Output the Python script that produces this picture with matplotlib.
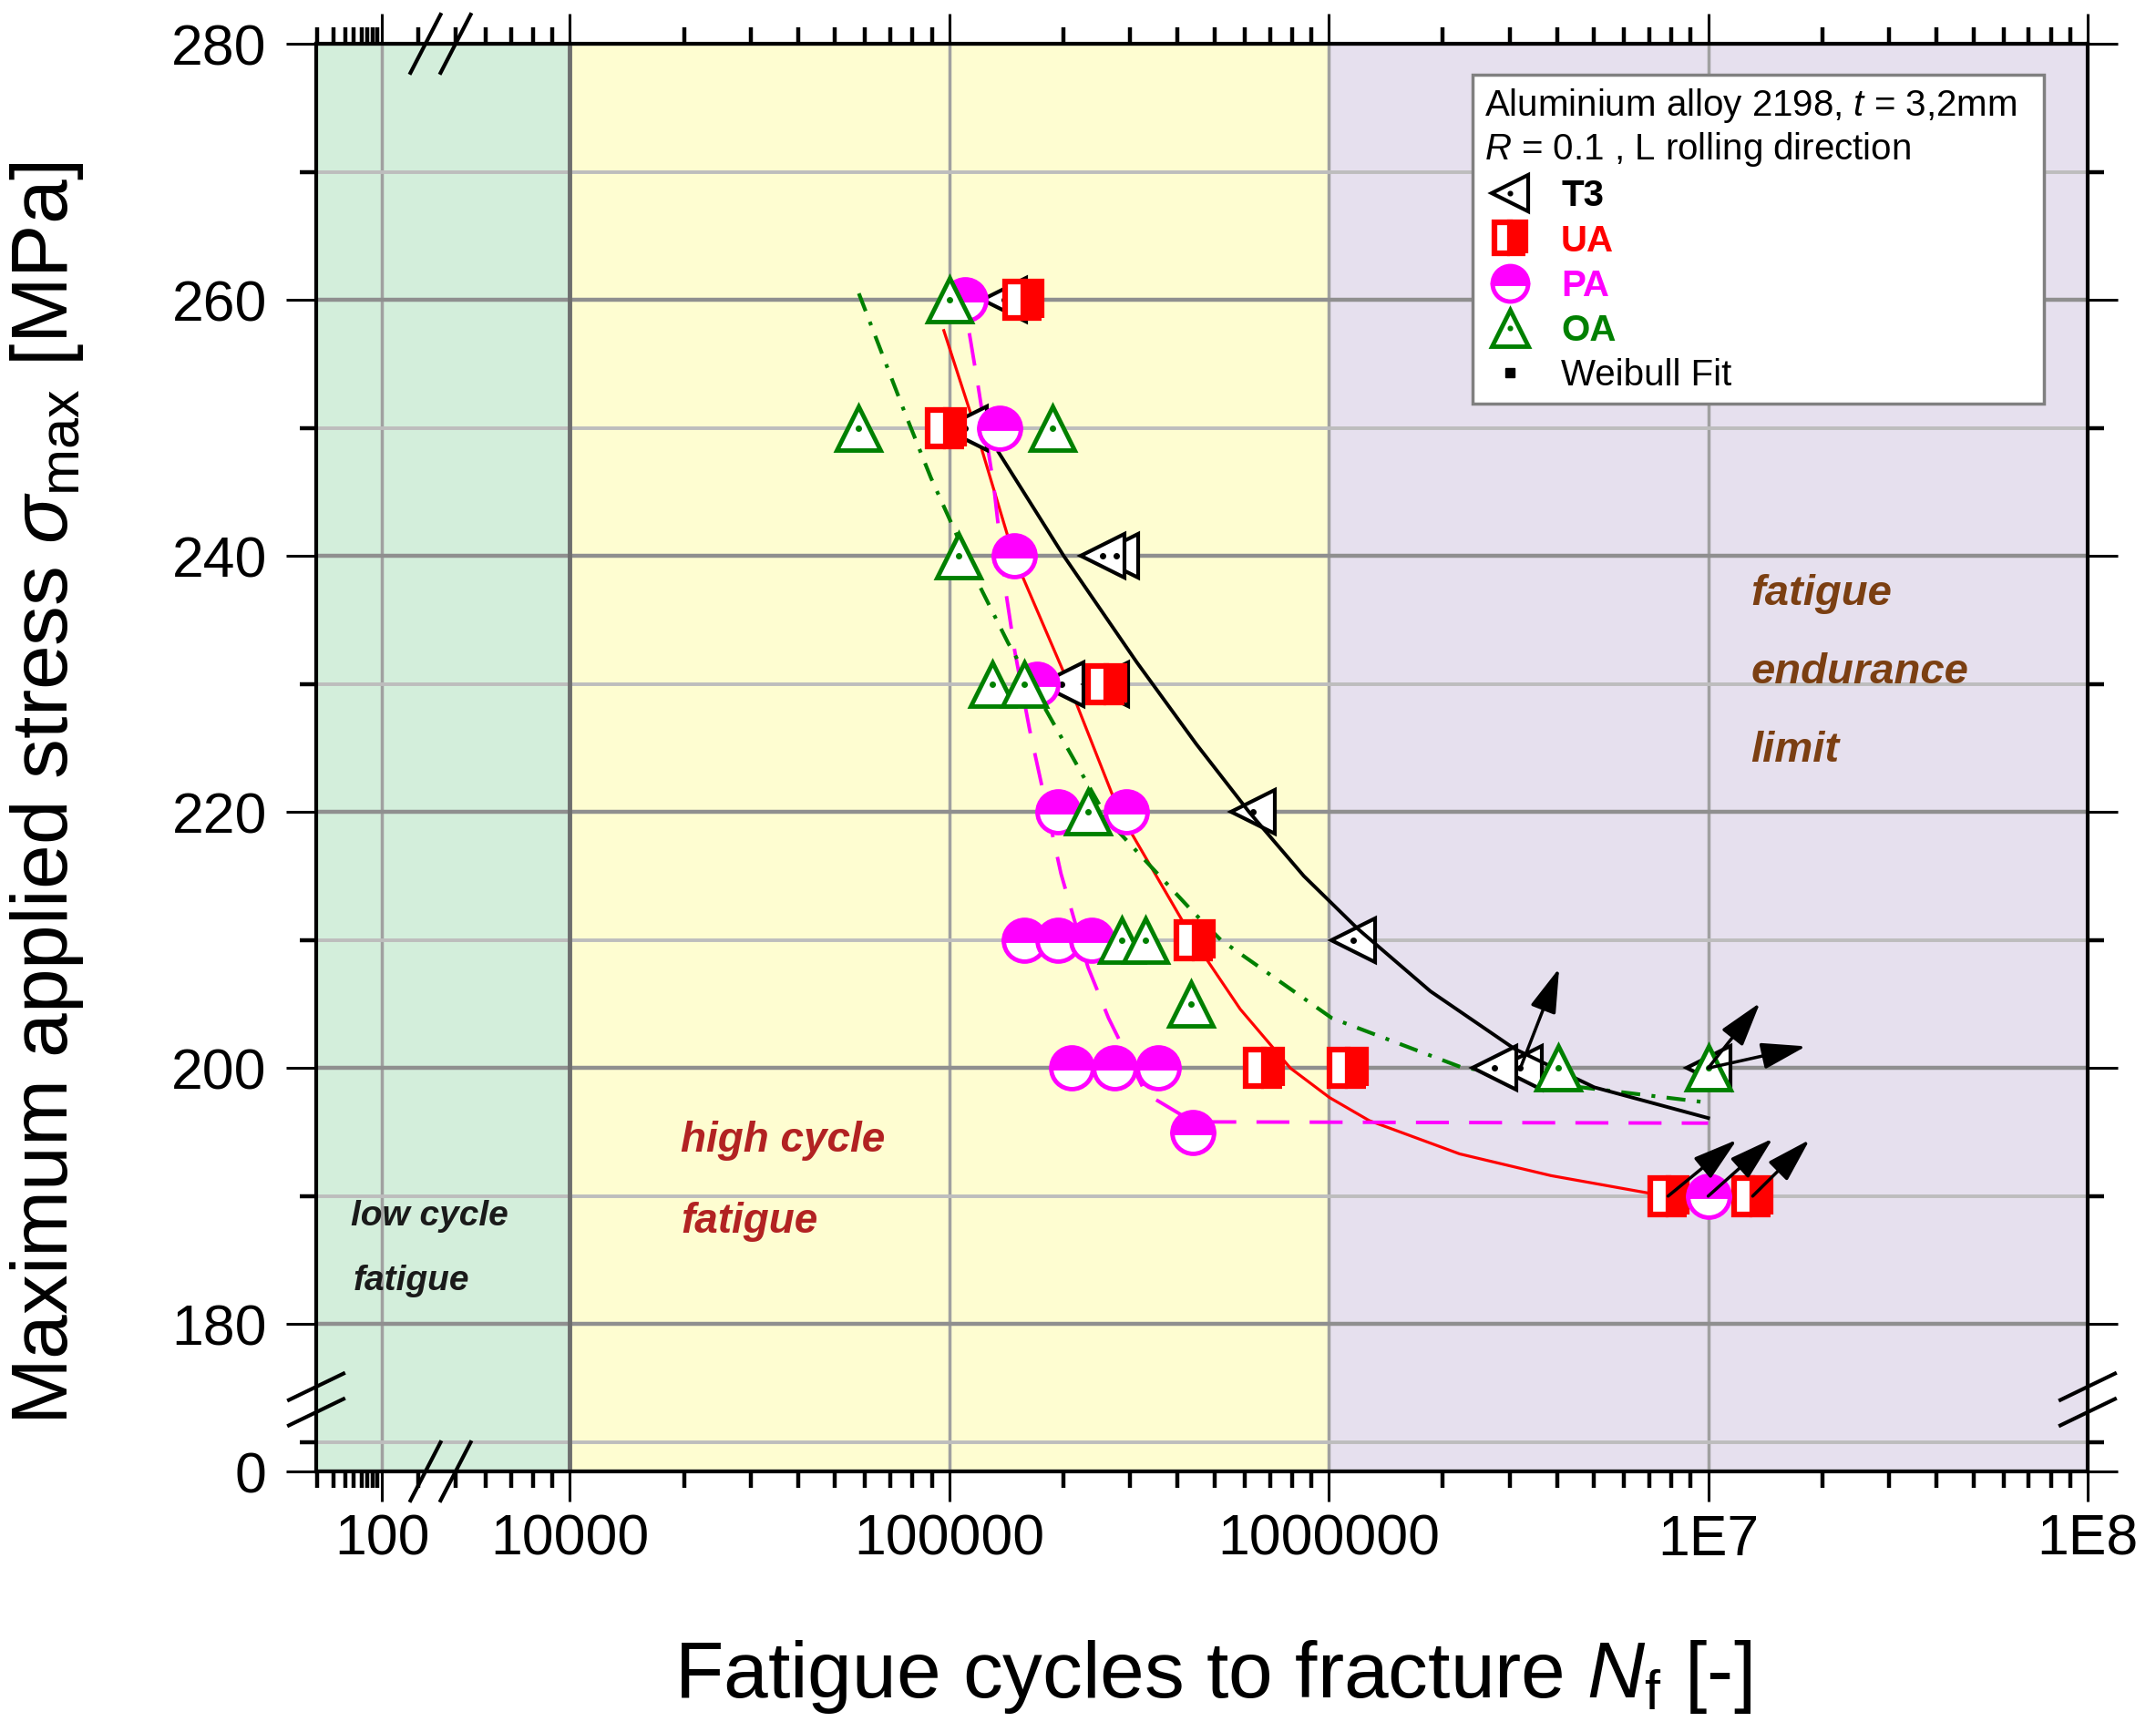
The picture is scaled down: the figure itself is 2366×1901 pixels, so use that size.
import matplotlib
matplotlib.use('Agg')
import matplotlib.pyplot as plt
from matplotlib.lines import Line2D
from matplotlib.ticker import NullFormatter
import numpy as np

plt.rcParams['font.family'] = ['Liberation Sans', 'DejaVu Sans']
plt.rcParams['mathtext.fontset'] = 'custom'
plt.rcParams['mathtext.rm'] = 'Liberation Sans'
plt.rcParams['mathtext.it'] = 'Liberation Sans:italic'
plt.rcParams['mathtext.bf'] = 'Liberation Sans:bold'

# ---- test results: cycles to fracture N_f and max stress [MPa] ----
t3_n = [1.40e5, 1.10e5, 2.75e5, 2.53e5, 1.98e5, 2.6e5, 6.3e5, 1.16e6, 3.2e6, 2.73e6, 1.0e7]
t3_s = [260, 250, 240, 240, 230, 230, 220, 210, 200, 200, 200]

ua_n = [1.57e5, 9.8e4, 2.6e5, 4.44e5, 6.76e5, 1.12e6, 7.84e6, 1.31e7]
ua_s = [260, 250, 230, 210, 200, 200, 190, 190]

pa_n = [1.10e5, 1.36e5, 1.48e5, 1.70e5, 1.93e5, 2.93e5, 1.58e5, 1.93e5, 2.38e5,
        2.10e5, 2.73e5, 3.55e5, 4.39e5, 1.0e7]
pa_s = [260, 250, 240, 230, 220, 220, 210, 210, 210, 200, 200, 200, 195, 190]

oa_n = [1.0e5, 5.75e4, 1.87e5, 1.06e5, 1.30e5, 1.58e5, 2.32e5, 2.85e5, 3.29e5, 4.34e5, 4.03e6, 1.0e7]
oa_s = [260, 250, 250, 240, 230, 230, 220, 210, 210, 205, 200, 200]

# run-outs (arrow start -> arrow tip)
runout_n0 = [3.2e6, 1.0e7, 1.0e7, 7.84e6, 1.0e7, 1.31e7]
runout_s0 = [200, 200, 200, 190, 190, 190]
runout_n1 = [4.05e6, 1.37e7, 1.81e7, 1.19e7, 1.48e7, 1.85e7]
runout_s1 = [207.8, 205.1, 201.7, 194.4, 194.5, 194.4]

# Weibull fits
t3_fit_n = [1.349e5, 2.004e5, 3.12e5, 4.48e5, 6.17e5, 8.60e5, 1.191e6, 1.854e6, 3.09e6, 5.01e6, 1.0e7]
t3_fit_s = [248.1, 240.0, 231.7, 225.3, 220.0, 215.0, 210.9, 206.0, 201.5, 198.5, 196.1]

ua_fit_n = [9.68e4, 1.172e5, 1.479e5, 2.065e5, 2.805e5, 4.406e5, 5.848e5, 7.925e5, 1.005e6,
            1.279e6, 2.213e6, 3.855e6, 7.08e6, 7.85e6]
ua_fit_s = [257.6, 250.0, 240.0, 230.0, 220.0, 210.0, 204.6, 200.0, 197.7,
            195.9, 193.3, 191.6, 190.2, 190.0]

pa_fit_n = [1.13e5, 1.19e5, 1.31e5, 1.41e5, 1.49e5, 1.63e5, 1.97e5, 2.32e5, 2.63e5, 3.3e5, 4.39e5, 1.0e7]
pa_fit_s = [257.4, 253.4, 245.5, 237.2, 232.5, 226.4, 215.2, 207.9, 203.9, 198.0, 195.8, 195.7]

oa_fit_n = [5.78e4, 7.59e4, 8.95e4, 1.21e5, 1.43e5, 2.63e5, 4.39e5, 5.2e5, 1.02e6, 2.22e6, 4.63e6, 1.0e7]
oa_fit_s = [260.5, 251.4, 246.1, 237.5, 233.2, 219.3, 212.2, 210.0, 203.9, 200.1, 198.5, 197.3]

# axis ticks
x_tick_labels = ['100', '10000', '100000', '1000000', '1E7', '1E8']
y_tick_values = [180, 200, 220, 240, 260, 280]
y_minor_values = [190, 210, 230, 250, 270]

# fatigue regimes
region_edges = [2148, 1e4, 1e6, 1e8]
region_colors = ['#d3eedb', '#fefdd1', '#e6e0ee']

# layout of the broken axes
X100_POS = 3.505      # log10 position where "100" sits left of the break
LEFT_DECADE = 0.2436  # compressed decade width left of the break
Y_ZERO_POS = 168.5    # where "0" sits below the y break
Y_LOW_GRID = 170.75


def left_segment(v):
    return 10 ** (X100_POS + (np.log10(v) - 2) * LEFT_DECADE)


fig = plt.figure(figsize=(23.66, 19.01), dpi=100)
ax = fig.add_axes([347 / 2366, 1 - 1615 / 1901, (2291 - 347) / 2366, (1615 - 48) / 1901])
ax.set_xscale('log')
ax.set_xlim(region_edges[0], region_edges[-1])
ax.set_ylim(Y_ZERO_POS, 280)

for i in range(3):
    ax.axvspan(region_edges[i], region_edges[i + 1], color=region_colors[i], zorder=0, lw=0)
ax.axvline(region_edges[1], color='#6e6e6e', lw=3.5, zorder=0.7)

xmaj = [left_segment(100), 1e4, 1e5, 1e6, 1e7, 1e8]
xmin = list(left_segment(np.arange(20, 100, 10)))
xmin += [k * 10 ** e for e in range(3, 8) for k in range(2, 10) if k * 10 ** e >= 4000]
ax.set_xticks(xmaj)
ax.set_xticklabels(x_tick_labels)
ax.set_xticks(xmin, minor=True)
ax.xaxis.set_minor_formatter(NullFormatter())
ax.set_yticks([Y_ZERO_POS] + y_tick_values)
ax.set_yticklabels(['0'] + [str(v) for v in y_tick_values])
ax.set_yticks([Y_LOW_GRID] + y_minor_values, minor=True)

ax.set_axisbelow(True)
ax.yaxis.grid(True, which='major', color='#8f8f8f', lw=3.2)
ax.yaxis.grid(True, which='minor', color='#bdbdbd', lw=2.8)
ax.xaxis.grid(True, which='major', color='#a0a0a0', lw=2.5)

ax.tick_params(which='major', direction='out', length=24, width=2.2, top=True, right=True,
               labelsize=45)
ax.tick_params(which='minor', direction='out', length=13, width=3.2, top=True, right=True)
ax.tick_params(axis='x', which='major', pad=9)
ax.tick_params(axis='y', which='major', pad=15)
for sp in ax.spines.values():
    sp.set_linewidth(3)

# fits
ax.plot(ua_fit_n, ua_fit_s, color='red', lw=2.3, zorder=2)
ax.plot(pa_fit_n, pa_fit_s, color='magenta', lw=2.8, dashes=(9.3, 5.7), zorder=2)
ax.plot(oa_fit_n, oa_fit_s, color='green', lw=3, dashes=(5, 3, 1, 3), zorder=2)

# data
ax.plot(t3_n, t3_s, ls='none', marker='<', ms=34, mfc='white', mec='black', mew=3, zorder=3)
ax.plot(t3_n, t3_s, ls='none', marker='o', ms=4, color='black', zorder=3.1)
ax.plot(t3_fit_n, t3_fit_s, color='black', lw=2.8, zorder=3.5)
ax.plot(ua_n, ua_s, ls='none', marker='s', ms=29.5, fillstyle='right', mfc='red',
        markerfacecoloralt='white', mec='red', mew=4.5, zorder=4)
ax.plot(pa_n, pa_s, ls='none', marker='o', ms=33, fillstyle='top', mfc='magenta',
        markerfacecoloralt='white', mec='magenta', mew=3.5, zorder=5)
ax.plot(oa_n, oa_s, ls='none', marker='^', ms=34, mfc='white', mec='green', mew=3.5, zorder=6)
ax.plot(oa_n, oa_s, ls='none', marker='o', ms=4, color='green', zorder=6.1)

for i in range(len(runout_n0)):
    ax.annotate('', xy=(runout_n1[i], runout_s1[i]), xytext=(runout_n0[i], runout_s0[i]),
                arrowprops=dict(arrowstyle='-|>,head_length=1.0,head_width=0.3', color='black',
                                lw=2.5, mutation_scale=30, shrinkA=0, shrinkB=0), zorder=7)

# break marks
bk = dict(transform=ax.transAxes, color='black', lw=3, clip_on=False, zorder=8)
for yb in (0.0593, 0.0415):
    for xb in (0.0, 1.0):
        ax.plot([xb - 0.0154, xb + 0.0154], [yb - 0.00925, yb + 0.00925], **bk)
for xb in (0.0617, 0.0787):
    for yb in (0.0, 1.0):
        ax.plot([xb - 0.0085, xb + 0.0085], [yb - 0.0204, yb + 0.0204], **bk)

# regime labels
txt = dict(transform=ax.transAxes, fontweight='bold', fontstyle='italic', va='center', ha='left')
ax.text(0.0195, 0.1787, 'low cycle', fontsize=28, color='#1a1a1a', **txt)
ax.text(0.021, 0.1334, 'fatigue', fontsize=28, color='#1a1a1a', **txt)
ax.text(0.2058, 0.2317, 'high cycle', fontsize=33, color='#b22222', **txt)
ax.text(0.2058, 0.1749, 'fatigue', fontsize=33, color='#b22222', **txt)
ax.text(0.8097, 0.6146, 'fatigue', fontsize=34, color='#7b3f12', **txt)
ax.text(0.8097, 0.5597, 'endurance', fontsize=34, color='#7b3f12', **txt)
ax.text(0.8097, 0.5048, 'limit', fontsize=34, color='#7b3f12', **txt)

# legend
dot_k = Line2D([], [], ls='none', marker='o', ms=4, color='black')
dot_g = Line2D([], [], ls='none', marker='o', ms=4, color='green')
handles = [
    (Line2D([], [], ls='none', marker='<', ms=34, mfc='white', mec='black', mew=3), dot_k),
    Line2D([], [], ls='none', marker='s', ms=29.5, fillstyle='right', mfc='red',
           markerfacecoloralt='white', mec='red', mew=4.5),
    Line2D([], [], ls='none', marker='o', ms=33, fillstyle='top', mfc='magenta',
           markerfacecoloralt='white', mec='magenta', mew=3.5),
    (Line2D([], [], ls='none', marker='^', ms=34, mfc='white', mec='green', mew=3.5), dot_g),
    Line2D([], [], ls='none', marker='s', ms=8, color='black'),
]
labels = ['T3', 'UA', 'PA', 'OA', 'Weibull Fit']
leg = ax.legend(handles, labels,
                title='Aluminium alloy 2198, $t$ = 3,2mm\n$R$ = 0.1 , L rolling direction',
                loc='upper left', bbox_to_anchor=(0.653, 0.752, 0.3225, 0.226), mode='expand',
                alignment='left', fontsize=29, title_fontsize=29, frameon=True, fancybox=False,
                edgecolor='#808080', framealpha=1, handlelength=1.4, handletextpad=0.7,
                labelspacing=0.28, borderpad=0.3, markerscale=0.85, borderaxespad=0)
leg.get_frame().set_linewidth(2.5)
leg.set_zorder(10)
for t, c, w in zip(leg.get_texts(), ['black', 'red', 'magenta', 'green', 'black'],
                   ['bold', 'bold', 'bold', 'bold', 'normal']):
    t.set_color(c)
    t.set_fontweight(w)

fig.text(0.5626, 0.032, 'Fatigue cycles to fracture $N_{\\mathrm{f}}$ [-]', fontsize=63,
         ha='center', va='center')
fig.text(0.0216, 0.542, 'Maximum applied stress $\\sigma_{\\mathrm{max}}$ [MPa]', fontsize=63,
         rotation=90, ha='center', va='center')

fig.savefig('out.png', dpi=100)
